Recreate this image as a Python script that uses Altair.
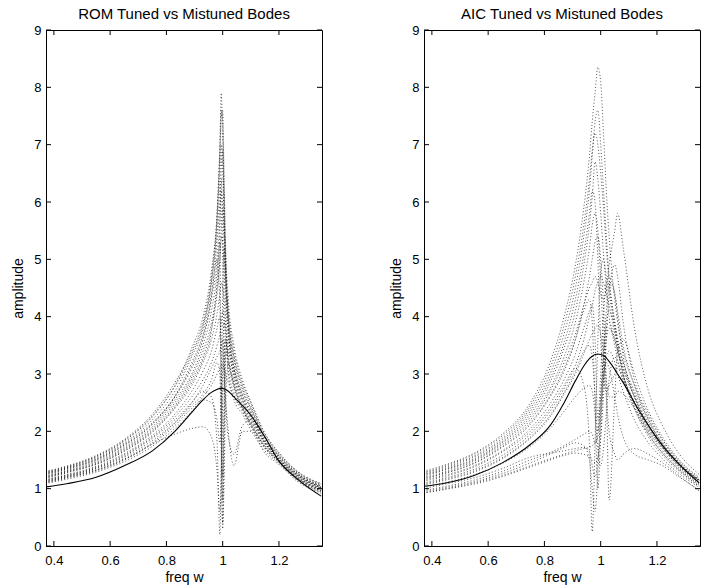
import altair as alt
import pandas as pd

# ---------------- data ----------------
X_TICKS = [0.4, 0.6, 0.8, 1.0, 1.2]
Y_TICKS = [0, 1, 2, 3, 4, 5, 6, 7, 8, 9]
X_DOMAIN = [0.372, 1.353]
Y_DOMAIN = [0, 9]

# ROM panel
freq_rom = [0.37, 0.45, 0.55, 0.65, 0.75, 0.83, 0.89, 0.93, 0.96, 0.98, 0.99, 0.995,
            1.0, 1.005, 1.01, 1.02, 1.04, 1.07, 1.1, 1.15, 1.2, 1.27, 1.35]
rom_tuned = [1.03, 1.09, 1.20, 1.40, 1.66, 2.00, 2.33, 2.55, 2.68, 2.73, 2.75, 2.75,
             2.75, 2.74, 2.73, 2.70, 2.60, 2.45, 2.28, 1.90, 1.48, 1.15, 0.87]
rom_mistuned = [
    [1.30, 1.40, 1.58, 1.86, 2.30, 2.85, 3.40, 3.90, 4.7, 5.8, 7.0, 7.9, 7.0, 5.8, 4.9, 4.1, 3.4, 2.85, 2.5, 1.95, 1.62, 1.28, 1.08],
    [1.27, 1.37, 1.54, 1.80, 2.20, 2.70, 3.30, 3.80, 4.6, 5.5, 6.4, 7.0, 6.6, 5.6, 4.7, 3.9, 3.2, 2.70, 2.4, 1.90, 1.58, 1.25, 1.05],
    [1.24, 1.34, 1.50, 1.75, 2.12, 2.60, 3.10, 3.60, 4.3, 5.0, 5.7, 6.2, 5.9, 5.2, 4.5, 3.7, 3.1, 2.62, 2.32, 1.85, 1.55, 1.23, 1.03],
    [1.21, 1.31, 1.46, 1.70, 2.05, 2.50, 2.95, 3.40, 3.9, 4.5, 5.0, 5.4, 5.3, 4.8, 4.2, 3.5, 3.0, 2.55, 2.25, 1.82, 1.52, 1.21, 1.02],
    [1.18, 1.28, 1.42, 1.65, 1.98, 2.40, 2.80, 3.20, 3.6, 4.05, 4.4, 4.6, 4.5, 4.3, 3.9, 3.3, 2.85, 2.45, 2.18, 1.78, 1.50, 1.19, 1.00],
    [1.16, 1.25, 1.39, 1.61, 1.93, 2.30, 2.70, 3.05, 3.4, 3.8, 4.0, 3.2, 1.2, 2.5, 3.6, 3.2, 2.75, 2.40, 2.12, 1.74, 1.48, 1.17, 0.98],
    [1.14, 1.23, 1.36, 1.57, 1.88, 2.20, 2.50, 2.70, 2.6, 1.8, 0.2, 1.5, 3.2, 3.9, 3.7, 3.1, 2.65, 2.35, 2.08, 1.70, 1.46, 1.15, 0.96],
    [1.12, 1.21, 1.33, 1.52, 1.78, 1.95, 2.05, 2.08, 1.9, 1.3, 0.6, 1.2, 2.6, 3.4, 3.6, 3.0, 2.55, 2.30, 2.02, 1.66, 1.44, 1.13, 0.94],
    [1.10, 1.19, 1.31, 1.50, 1.80, 2.15, 2.50, 2.80, 3.1, 3.3, 3.4, 3.5, 3.6, 3.0, 2.6, 2.0, 1.4, 2.0, 2.0, 1.62, 1.42, 1.11, 0.92],
    [1.20, 1.30, 1.44, 1.68, 2.02, 2.45, 2.90, 3.30, 3.8, 4.4, 5.0, 5.5, 5.9, 5.6, 5.0, 4.0, 3.3, 2.75, 2.4, 1.90, 1.56, 1.24, 1.04],
    [1.26, 1.36, 1.52, 1.78, 2.15, 2.62, 3.20, 3.70, 4.4, 5.0, 4.2, 2.6, 0.8, 2.2, 3.4, 3.6, 3.1, 2.65, 2.35, 1.88, 1.57, 1.25, 1.05],
    [1.09, 1.17, 1.29, 1.47, 1.74, 2.05, 2.35, 2.60, 2.8, 3.0, 3.1, 3.15, 3.15, 3.1, 3.0, 2.85, 2.6, 2.40, 2.15, 1.72, 1.47, 1.14, 0.95],
    [1.28, 1.38, 1.56, 1.83, 2.25, 2.78, 3.35, 3.85, 4.6, 5.7, 6.8, 7.5, 7.6, 6.4, 5.3, 4.3, 3.5, 2.90, 2.52, 1.97, 1.63, 1.29, 1.09],
    [1.22, 1.32, 1.48, 1.72, 2.08, 2.55, 3.00, 3.50, 4.1, 4.8, 5.5, 6.6, 6.9, 6.0, 4.8, 3.8, 3.1, 2.60, 2.3, 1.84, 1.53, 1.22, 1.02],
    [1.19, 1.29, 1.43, 1.66, 2.00, 2.42, 2.85, 3.25, 3.75, 4.6, 5.3, 2.0, 0.4, 1.8, 3.3, 3.4, 2.9, 2.50, 2.2, 1.80, 1.51, 1.20, 1.01],
    [1.15, 1.24, 1.37, 1.59, 1.90, 2.25, 2.60, 2.90, 3.2, 3.5, 3.7, 3.9, 4.1, 4.0, 3.8, 3.3, 2.8, 2.42, 2.13, 1.75, 1.48, 1.17, 0.98],
    [1.13, 1.22, 1.35, 1.55, 1.84, 2.15, 2.45, 2.65, 2.9, 3.2, 3.0, 1.6, 0.3, 1.1, 2.4, 3.2, 2.8, 2.40, 2.1, 1.72, 1.47, 1.16, 0.97],
    [1.25, 1.35, 1.51, 1.76, 2.13, 2.60, 3.15, 3.65, 4.35, 5.3, 6.0, 6.4, 5.0, 3.6, 2.6, 1.9, 1.6, 2.10, 2.2, 1.80, 1.52, 1.22, 1.02],
    [1.11, 1.20, 1.32, 1.51, 1.78, 2.10, 2.40, 2.55, 2.5, 2.2, 1.8, 2.5, 4.4, 5.2, 4.8, 3.8, 3.0, 2.55, 2.25, 1.80, 1.50, 1.18, 0.99],
    [1.29, 1.39, 1.56, 1.84, 2.27, 2.80, 3.45, 4.00, 4.8, 5.8, 6.9, 7.6, 7.4, 6.3, 5.2, 4.0, 3.3, 2.80, 2.45, 1.93, 1.60, 1.27, 1.07],
]

# AIC panel
freq_aic = [0.37, 0.45, 0.55, 0.65, 0.75, 0.82, 0.87, 0.91, 0.94, 0.96, 0.97, 0.98, 0.99,
            1.0, 1.01, 1.02, 1.03, 1.05, 1.06, 1.08, 1.12, 1.17, 1.22, 1.28, 1.35]
aic_tuned = [1.04, 1.10, 1.23, 1.45, 1.77, 2.10, 2.50, 2.88, 3.14, 3.27, 3.31, 3.34, 3.35,
             3.34, 3.32, 3.28, 3.22, 3.08, 3.00, 2.85, 2.50, 2.10, 1.75, 1.42, 1.10]
aic_mistuned = [
    [1.30, 1.42, 1.62, 1.95, 2.50, 3.20, 4.00, 4.90, 5.9, 6.8, 7.4, 7.9, 8.35, 8.1, 7.2, 6.2, 5.4, 4.3, 3.9, 3.4, 2.8, 2.25, 1.85, 1.48, 1.18],
    [1.27, 1.38, 1.57, 1.88, 2.40, 3.00, 3.70, 4.50, 5.4, 6.2, 6.8, 7.4, 7.6, 7.0, 6.2, 5.4, 4.7, 3.9, 3.6, 3.2, 2.65, 2.15, 1.78, 1.43, 1.15],
    [1.24, 1.34, 1.52, 1.82, 2.30, 2.85, 3.45, 4.10, 4.9, 5.6, 6.1, 6.7, 6.4, 5.8, 5.1, 4.5, 4.0, 3.5, 3.25, 2.95, 2.5, 2.05, 1.72, 1.40, 1.13],
    [1.20, 1.30, 1.48, 1.77, 2.20, 2.70, 3.20, 3.70, 4.2, 4.5, 4.6, 4.7, 4.6, 4.4, 4.3, 4.5, 4.9, 5.5, 5.8, 5.2, 3.8, 2.7, 2.1, 1.6, 1.25],
    [1.17, 1.27, 1.44, 1.72, 2.12, 2.60, 3.05, 3.60, 4.2, 4.7, 5.0, 5.3, 5.4, 5.0, 4.2, 2.8, 0.8, 2.6, 3.4, 3.6, 3.0, 2.35, 1.9, 1.5, 1.2],
    [1.13, 1.22, 1.38, 1.64, 2.00, 2.40, 2.80, 3.10, 2.8, 1.8, 0.25, 1.8, 3.6, 4.8, 5.0, 4.7, 4.4, 3.8, 3.5, 3.1, 2.6, 2.1, 1.75, 1.42, 1.14],
    [1.10, 1.19, 1.34, 1.58, 1.95, 2.35, 2.75, 3.15, 3.6, 4.0, 4.2, 4.45, 4.6, 4.7, 4.6, 4.4, 4.2, 3.7, 3.45, 3.0, 2.45, 1.95, 1.62, 1.33, 1.07],
    [1.00, 1.08, 1.19, 1.35, 1.55, 1.62, 1.66, 1.70, 1.72, 1.65, 1.4, 1.2, 1.5, 2.2, 2.9, 3.3, 3.4, 3.2, 3.0, 2.7, 2.2, 1.8, 1.52, 1.26, 1.02],
    [0.95, 1.02, 1.12, 1.26, 1.45, 1.60, 1.72, 1.80, 1.75, 1.5, 1.0, 0.6, 1.3, 2.3, 3.0, 3.2, 3.1, 2.6, 2.3, 1.9, 1.6, 1.5, 1.4, 1.2, 0.98],
    [1.06, 1.15, 1.29, 1.52, 1.88, 2.25, 2.65, 3.00, 3.35, 3.6, 3.7, 3.8, 3.85, 3.7, 3.3, 2.6, 2.0, 1.6, 1.5, 1.6, 1.7, 1.6, 1.45, 1.22, 0.96],
    [0.92, 0.99, 1.08, 1.21, 1.38, 1.50, 1.58, 1.62, 1.60, 1.55, 1.5, 1.45, 1.55, 1.9, 2.6, 3.6, 4.4, 4.9, 4.7, 3.9, 2.9, 2.3, 1.85, 1.45, 1.15],
    [1.22, 1.33, 1.50, 1.80, 2.25, 2.75, 3.30, 3.90, 4.6, 5.2, 5.6, 5.8, 5.5, 4.6, 3.6, 2.9, 2.6, 2.6, 2.7, 2.65, 2.4, 2.0, 1.7, 1.38, 1.11],
    [1.28, 1.40, 1.60, 1.92, 2.45, 3.10, 3.85, 4.70, 5.6, 6.4, 6.9, 7.2, 7.0, 6.5, 5.9, 5.2, 4.6, 3.9, 3.6, 3.2, 2.7, 2.2, 1.8, 1.45, 1.16],
    [1.15, 1.24, 1.40, 1.66, 2.05, 2.48, 2.90, 3.35, 3.8, 4.1, 4.2, 3.6, 2.2, 3.0, 4.0, 4.6, 4.7, 4.4, 4.1, 3.5, 2.8, 2.2, 1.78, 1.42, 1.14],
    [1.08, 1.17, 1.31, 1.54, 1.90, 2.28, 2.68, 3.05, 3.4, 3.5, 3.3, 2.6, 2.0, 2.6, 3.3, 3.8, 3.9, 3.6, 3.4, 3.0, 2.5, 2.0, 1.66, 1.35, 1.08],
    [0.97, 1.04, 1.15, 1.30, 1.50, 1.63, 1.75, 1.86, 1.95, 2.0, 1.95, 1.8, 1.9, 2.4, 3.2, 3.9, 4.1, 3.8, 3.5, 3.0, 2.4, 1.9, 1.58, 1.3, 1.04],
    [1.25, 1.36, 1.55, 1.85, 2.35, 2.92, 3.55, 4.30, 5.1, 5.8, 6.2, 6.0, 5.0, 3.6, 2.9, 2.7, 2.8, 3.0, 3.1, 2.9, 2.5, 2.05, 1.72, 1.40, 1.12],
    [1.03, 1.11, 1.24, 1.44, 1.74, 2.05, 2.35, 2.60, 2.75, 2.8, 2.7, 2.3, 1.7, 1.4, 1.7, 2.3, 2.9, 3.3, 3.2, 2.9, 2.4, 1.95, 1.62, 1.32, 1.05],
    [1.18, 1.28, 1.45, 1.74, 2.15, 2.62, 3.10, 3.60, 4.1, 4.3, 3.9, 2.5, 1.0, 1.9, 3.0, 3.6, 3.8, 3.6, 3.4, 3.1, 2.6, 2.1, 1.76, 1.43, 1.15],
    [0.93, 1.00, 1.10, 1.23, 1.40, 1.52, 1.60, 1.66, 1.70, 1.72, 1.75, 1.8, 2.0, 2.6, 3.4, 4.1, 4.6, 4.4, 4.0, 3.3, 2.6, 2.1, 1.72, 1.38, 1.10],
]

FONT = "Liberation Sans"
W, H = 276, 516


def panel(freq, tuned, mistuned, title):
    rows = []
    for k, curve in enumerate(mistuned):
        for f, a in zip(freq, curve):
            rows.append({"freq": f, "amp": a, "curve": k})
    mis = pd.DataFrame(rows)
    tun = pd.DataFrame({"freq": freq, "amp": tuned})

    x = alt.X("freq:Q", scale=alt.Scale(domain=X_DOMAIN, nice=False, zero=False),
              axis=alt.Axis(values=X_TICKS, format="~g", title="freq w", tickSize=0,
                            labelPadding=8, titlePadding=3))
    y = alt.Y("amp:Q", scale=alt.Scale(domain=Y_DOMAIN, nice=False, zero=False),
              axis=alt.Axis(values=Y_TICKS, title="amplitude", tickSize=0,
                            labelPadding=5, titlePadding=8))

    dotted = alt.Chart(mis).mark_line(
        color="black", strokeWidth=0.9, strokeDash=[1, 2.2], opacity=0.75,
        interpolate="monotone", clip=True
    ).encode(x=x, y=y, detail="curve:N")

    solid = alt.Chart(tun).mark_line(
        color="black", strokeWidth=1.1, interpolate="monotone", clip=True
    ).encode(x=x, y=y)

    xt = pd.DataFrame({"freq": X_TICKS})
    yt = pd.DataFrame({"amp": Y_TICKS})
    xb = alt.Chart(xt).mark_rule(color="black").encode(x=x, y=alt.value(H), y2=alt.value(H - 5))
    xtop = alt.Chart(xt).mark_rule(color="black").encode(x=x, y=alt.value(0), y2=alt.value(5))
    yl = alt.Chart(yt).mark_rule(color="black").encode(y=y, x=alt.value(0), x2=alt.value(5))
    yr = alt.Chart(yt).mark_rule(color="black").encode(y=y, x=alt.value(W), x2=alt.value(W - 5))

    return alt.layer(dotted, solid, xb, xtop, yl, yr).properties(
        width=W, height=H,
        title=alt.TitleParams(title, font=FONT, fontSize=15, fontWeight="normal",
                              color="black", offset=2)
    )


left = panel(freq_rom, rom_tuned, rom_mistuned, "ROM Tuned vs Mistuned Bodes")
right = panel(freq_aic, aic_tuned, aic_mistuned, "AIC Tuned vs Mistuned Bodes")

chart = alt.hconcat(left, right, spacing=102, bounds="flush").properties(
    padding={"left": 11, "top": 6, "right": 5, "bottom": 0},
    background="white"
).configure_view(
    stroke="black", strokeWidth=1
).configure_axis(
    domainColor="black", domainWidth=1, grid=False,
    labelFont=FONT, labelFontSize=13, labelColor="black",
    titleFont=FONT, titleFontSize=14, titleFontWeight="normal", titleColor="black"
)

chart.save("out.html", embed_options={"renderer": "svg", "actions": False})
